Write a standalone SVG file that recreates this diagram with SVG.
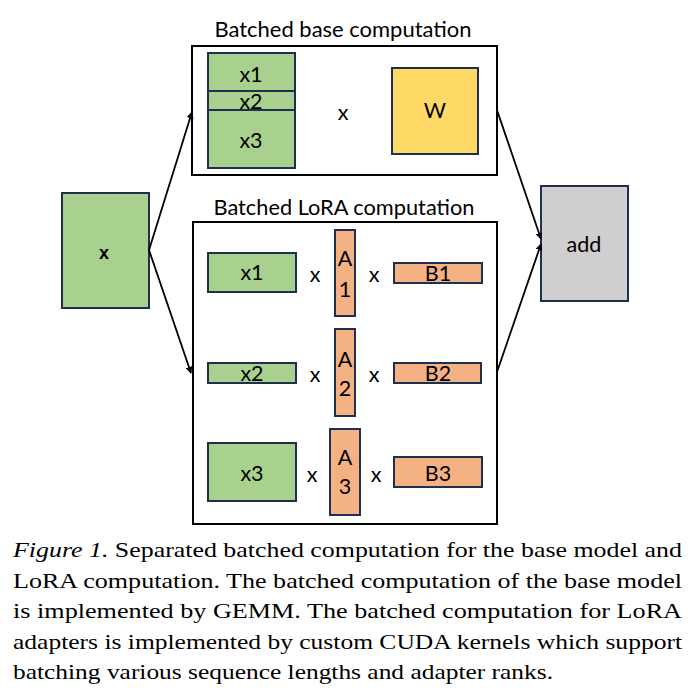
<svg xmlns="http://www.w3.org/2000/svg" width="700" height="699" viewBox="0 0 700 699">
<defs>
<marker id="ah" viewBox="0 0 10 10" refX="9" refY="5" markerWidth="7" markerHeight="7" orient="auto" markerUnits="userSpaceOnUse">
<path d="M0,0 L10,5 L0,10 z" fill="#000"/>
</marker>
<style>
.frame{fill:#fff;stroke:#000;stroke-width:2}
.g{fill:#A9D18E;stroke:#1F2F4F;stroke-width:2}
.o{fill:#F4B183;stroke:#1F2F4F;stroke-width:2}
.y{fill:#FFD966;stroke:#1F2F4F;stroke-width:2}
.gr{fill:#D0CECE;stroke:#1F2F4F;stroke-width:2}
.t{font-family:Lato,"Liberation Sans",sans-serif;font-size:21.5px;fill:#000;text-anchor:middle;dominant-baseline:central}
.ti{font-family:Lato,"Liberation Sans",sans-serif;font-size:21px;fill:#000;text-anchor:middle}
.cap{font-family:"Liberation Serif","Times New Roman",serif;font-size:22px;fill:#000}
.c{fill:none;stroke:#000;stroke-width:1.8;marker-end:url(#ah)}
</style>
</defs>
<rect width="700" height="699" fill="#fff"/>

<g id="base-frame">
<text class="ti" x="343" y="37" textLength="257" lengthAdjust="spacingAndGlyphs">Batched base computation</text>
<rect class="frame" x="192" y="46" width="305" height="129"/>
</g>
<g id="base-x">
<rect class="g" x="208" y="53" width="87" height="115"/>
<line x1="208" y1="91" x2="295" y2="91" stroke="#1F2F4F" stroke-width="2"/>
<line x1="208" y1="110" x2="295" y2="110" stroke="#1F2F4F" stroke-width="2"/>
<text class="t" x="251" y="74">x1</text>
<text class="t" x="251" y="101">x2</text>
<text class="t" x="251" y="140">x3</text>
</g>
<text class="t" x="343" y="112">x</text>
<g id="W">
<rect class="y" x="392" y="68" width="86" height="86"/>
<text class="t" x="435" y="110">W</text>
</g>

<g id="lora-frame">
<text class="ti" x="344" y="215" textLength="261" lengthAdjust="spacingAndGlyphs">Batched LoRA computation</text>
<rect class="frame" x="193" y="222" width="304" height="302"/>
</g>
<g id="x1"><rect class="g" x="208" y="253" width="88" height="39"/><text class="t" x="252" y="272">x1</text></g>
<g id="A1"><rect class="o" x="335" y="230" width="20" height="86"/><text class="t" x="345" y="258">A</text><text class="t" x="345" y="289">1</text></g>
<g id="B1"><rect class="o" x="394" y="263" width="88" height="20"/><text class="t" x="438" y="273">B1</text></g>
<text class="t" x="315" y="274">x</text>
<text class="t" x="374" y="274">x</text>

<g id="x2"><rect class="g" x="208" y="363" width="88" height="20"/><text class="t" x="252" y="373">x2</text></g>
<g id="A2"><rect class="o" x="335" y="329" width="20" height="87"/><text class="t" x="345" y="359">A</text><text class="t" x="345" y="388">2</text></g>
<g id="B2"><rect class="o" x="394" y="363" width="87" height="20"/><text class="t" x="438" y="373">B2</text></g>
<text class="t" x="315" y="374">x</text>
<text class="t" x="374" y="374">x</text>

<g id="x3"><rect class="g" x="208" y="443" width="88" height="58"/><text class="t" x="252" y="473">x3</text></g>
<g id="A3"><rect class="o" x="330" y="429" width="30" height="86"/><text class="t" x="345" y="457">A</text><text class="t" x="345" y="486">3</text></g>
<g id="B3"><rect class="o" x="394" y="457" width="88" height="30"/><text class="t" x="438" y="473">B3</text></g>
<text class="t" x="312" y="474">x</text>
<text class="t" x="376" y="474">x</text>

<g id="input-x">
<rect class="g" x="62" y="193" width="87" height="115"/>
<text x="104" y="253" font-family="'Liberation Sans',Arial,sans-serif" font-size="18" font-weight="bold" text-anchor="middle" dominant-baseline="central">x</text>
</g>
<g id="add">
<rect class="gr" x="541" y="186" width="87" height="115"/>
<text class="t" x="584" y="244">add</text>
</g>

<g id="connectors">
<path class="c" d="M149,250 L192,112"/>
<path class="c" d="M149,250 L191,373"/>
<path class="c" d="M497,110 L541,239"/>
<path class="c" d="M497,372 L541,244"/>
</g>

<g id="caption">
<text class="cap" x="13" y="557" textLength="669" lengthAdjust="spacingAndGlyphs"><tspan font-style="italic">Figure 1.</tspan> Separated batched computation for the base model and</text>
<text class="cap" x="13" y="587.5" textLength="669" lengthAdjust="spacingAndGlyphs">LoRA computation. The batched computation of the base model</text>
<text class="cap" x="13" y="618" textLength="669" lengthAdjust="spacingAndGlyphs">is implemented by GEMM. The batched computation for LoRA</text>
<text class="cap" x="13" y="649" textLength="669" lengthAdjust="spacingAndGlyphs">adapters is implemented by custom CUDA kernels which support</text>
<text class="cap" x="13" y="679" textLength="540" lengthAdjust="spacingAndGlyphs">batching various sequence lengths and adapter ranks.</text>
</g>
</svg>
